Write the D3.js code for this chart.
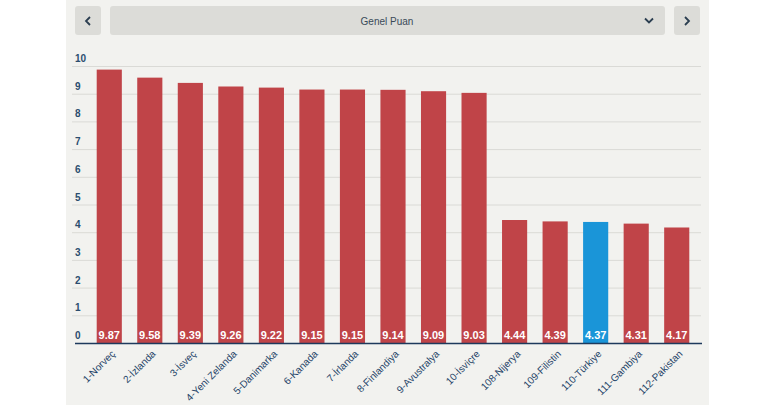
<!DOCTYPE html>
<html>
<head>
<meta charset="utf-8">
<script src="https://cdn.jsdelivr.net/npm/d3@7"></script>
<style>
  body { margin: 0; background: #fff; }
  svg { display: block; }
</style>
</head>
<body>
<svg id="chart" width="768" height="405"></svg>
<script>
// data
var countries = ["1-Norveç", "2-İzlanda", "3-İsveç", "4-Yeni Zelanda", "5-Danimarka", "6-Kanada", "7-İrlanda",
  "8-Finlandiya", "9-Avustralya", "10-İsviçre", "108-Nijerya", "109-Filistin", "110-Türkiye", "111-Gambiya", "112-Pakistan"];
var scores = [9.87, 9.58, 9.39, 9.26, 9.22, 9.15, 9.15, 9.14, 9.09, 9.03, 4.44, 4.39, 4.37, 4.31, 4.17];
var highlight = "110-Türkiye";
var yTicks = [0, 1, 2, 3, 4, 5, 6, 7, 8, 9, 10];
var title = "Genel Puan";

var svg = d3.select("#chart");

// grey panel
svg.append("rect").attr("x", 66).attr("y", 0).attr("width", 643).attr("height", 405).attr("fill", "#f2f2ef");

// header buttons
svg.append("rect").attr("x", 75).attr("y", 6).attr("width", 26).attr("height", 29).attr("rx", 3).attr("fill", "#dcdcd8");
svg.append("rect").attr("x", 110).attr("y", 6).attr("width", 555).attr("height", 29).attr("rx", 3).attr("fill", "#dcdcd8");
svg.append("rect").attr("x", 674).attr("y", 6).attr("width", 26).attr("height", 29).attr("rx", 3).attr("fill", "#dcdcd8");
svg.append("path").attr("d", "M90,17 L86,21 L90,25").attr("fill", "none").attr("stroke", "#2b3e50").attr("stroke-width", 1.8);
svg.append("path").attr("d", "M685,17 L689,21 L685,25").attr("fill", "none").attr("stroke", "#2b3e50").attr("stroke-width", 1.8);
svg.append("path").attr("d", "M645,18.5 L649,22.5 L653,18.5").attr("fill", "none").attr("stroke", "#2b3e50").attr("stroke-width", 1.8);
svg.append("text").attr("x", 387).attr("y", 24.5).attr("text-anchor", "middle")
  .style("font", "10px 'Liberation Sans', Arial, sans-serif").attr("fill", "#3a4a58").text(title);

var x = d3.scaleBand().domain(countries).range([89, 697]).paddingInner(0.38).paddingOuter(0.19);
var y = d3.scaleLinear().domain([0, 10]).range([343, 66]);

// grid
svg.append("g").selectAll("line").data(yTicks.slice(1)).enter().append("line")
  .attr("x1", 72).attr("x2", 701)
  .attr("y1", function (d) { return y(d) + 0.5; })
  .attr("y2", function (d) { return y(d) + 0.5; })
  .attr("stroke", "#dadad6").attr("stroke-width", 1);

// y labels
svg.append("g").selectAll("text").data(yTicks).enter().append("text")
  .attr("x", 75).attr("y", function (d) { return y(d) - 4; })
  .style("font", "bold 10px 'Liberation Sans', Arial, sans-serif")
  .attr("fill", "#2b4d6e").text(function (d) { return d; });

// bars
svg.append("g").selectAll("rect").data(countries).enter().append("rect")
  .attr("x", function (d) { return x(d); })
  .attr("width", x.bandwidth())
  .attr("y", function (d, i) { return y(scores[i]); })
  .attr("height", function (d, i) { return y(0) - y(scores[i]); })
  .attr("fill", function (d) { return d === highlight ? "#1a95d8" : "#c04448"; });

// value labels
svg.append("g").selectAll("text").data(countries).enter().append("text")
  .attr("x", function (d) { return x(d) + x.bandwidth() / 2; })
  .attr("y", y(0) - 4)
  .attr("text-anchor", "middle")
  .style("font", "bold 11px 'Liberation Sans Narrow', 'Arial Narrow', sans-serif")
  .attr("fill", "#fff").text(function (d, i) { return scores[i].toFixed(2); });

// baseline
svg.append("line").attr("x1", 75).attr("x2", 702).attr("y1", y(0) + 0.5).attr("y2", y(0) + 0.5)
  .attr("stroke", "#1e3a5c").attr("stroke-width", 1.5);

// x labels
svg.append("g").selectAll("text").data(countries).enter().append("text")
  .attr("transform", function (d) { return "translate(" + (x(d) + x.bandwidth() / 2 + 4) + ",352) rotate(-45)"; })
  .attr("text-anchor", "end")
  .attr("dy", "0.35em")
  .style("font", "10px 'Liberation Sans', Arial, sans-serif")
  .attr("fill", "#1f4468").text(function (d) { return d; });
</script>
</body>
</html>
